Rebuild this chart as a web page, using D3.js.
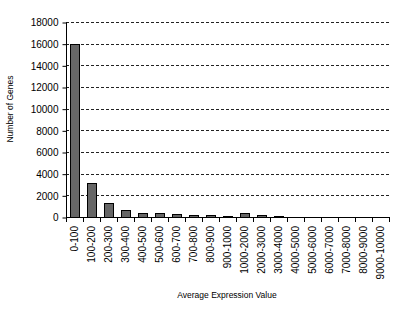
<!DOCTYPE html>
<html lang="en">
<head>
    <meta charset="UTF-8">
    <script src="https://d3js.org/d3.v7.min.js"></script>
    <style>
        body { margin: 0; background: #fff; }
        text { font-family: "Liberation Sans", Arial, sans-serif; fill: #000; }
    </style>
    <title>Average Expression Value</title>
</head>
<body>
    <script type="text/javascript">
    // data
    const categories = ["0-100", "100-200", "200-300", "300-400", "400-500", "500-600",
        "600-700", "700-800", "800-900", "900-1000", "1000-2000", "2000-3000",
        "3000-4000", "4000-5000", "5000-6000", "6000-7000", "7000-8000",
        "8000-9000", "9000-10000"];
    const counts = [16000, 3150, 1300, 650, 370, 400, 280, 185, 185, 120,
        400, 150, 130, 0, 0, 0, 0, 0, 0];
    const yTicks = [0, 2000, 4000, 6000, 8000, 10000, 12000, 14000, 16000, 18000];

    const w = 400;
    const h = 313;
    const plotL = 66, plotR = 389, plotT = 22, plotB = 217;

    const x = d3.scaleBand(categories, [plotL, plotR]);
    const y = d3.scaleLinear([0, 18000], [plotB, plotT]);

    const svg = d3.select("body")
        .append("svg")
        .attr("width", w)
        .attr("height", h);

    // dashed gridlines
    svg.selectAll("line.grid")
        .data(yTicks.filter(function(d) { return d > 0; }))
        .enter()
        .append("line")
        .attr("class", "grid")
        .attr("x1", plotL)
        .attr("x2", plotR)
        .attr("y1", function(d) { return Math.round(y(d)) + 0.5; })
        .attr("y2", function(d) { return Math.round(y(d)) + 0.5; })
        .attr("stroke", "#222")
        .attr("stroke-dasharray", "3,2");

    // bars: half the category width, centred
    const bw = x.bandwidth() * 0.5;
    const rows = categories.map(function(c, i) { return { cat: c, n: counts[i] }; })
        .filter(function(d) { return d.n > 0; });
    svg.selectAll("rect.bar")
        .data(rows)
        .enter()
        .append("rect")
        .attr("class", "bar")
        .attr("x", function(d) { return Math.round(x(d.cat) + (x.bandwidth() - bw) / 2) + 0.5; })
        .attr("y", function(d) { return Math.round(y(d.n)) + 0.5; })
        .attr("width", Math.round(bw))
        .attr("height", function(d) { return Math.round(y(0)) - Math.round(y(d.n)); })
        .attr("fill", "#666")
        .attr("stroke", "#000")
        .attr("stroke-width", 1);

    // y axis
    const yAxis = d3.axisLeft(y)
        .tickValues(yTicks)
        .tickSize(4)
        .tickPadding(4)
        .tickFormat(d3.format("d"));
    const gy = svg.append("g")
        .attr("transform", "translate(" + (plotL + 0.5) + ",0.5)")
        .call(yAxis);
    gy.select(".domain").attr("d", "M0," + plotT + "V" + plotB);
    gy.selectAll("text").attr("font-size", "10px").attr("font-family", "'Liberation Sans', Arial, sans-serif");

    // x axis line + boundary ticks
    svg.append("line")
        .attr("x1", plotL).attr("x2", plotR + 0.5)
        .attr("y1", Math.round(y(0)) + 0.5).attr("y2", Math.round(y(0)) + 0.5)
        .attr("stroke", "#000");
    const bounds = categories.map(function(c) { return x(c); }).concat([plotR]);
    svg.selectAll("line.xtick")
        .data(bounds)
        .enter()
        .append("line")
        .attr("class", "xtick")
        .attr("x1", function(d) { return Math.round(d) + 0.5; })
        .attr("x2", function(d) { return Math.round(d) + 0.5; })
        .attr("y1", Math.round(y(0)))
        .attr("y2", Math.round(y(0)) + 5)
        .attr("stroke", "#000");

    svg.selectAll("text.xlab")
        .data(categories)
        .enter()
        .append("text")
        .attr("class", "xlab")
        .text(function(d) { return d; })
        .attr("transform", function(d) {
            return "translate(" + (x(d) + x.bandwidth() / 2 + 3) + "," + 226 + ") rotate(-90)";
        })
        .attr("text-anchor", "end")
        .attr("font-size", "10px");

    // axis titles
    svg.append("text")
        .text("Average Expression Value")
        .attr("x", 227)
        .attr("y", 298)
        .attr("text-anchor", "middle")
        .attr("font-size", "8.5px");

    svg.append("text")
        .text("Number of Genes")
        .attr("transform", "translate(13,109) rotate(-90)")
        .attr("text-anchor", "middle")
        .attr("font-size", "8.5px");
    </script>
</body>
</html>
